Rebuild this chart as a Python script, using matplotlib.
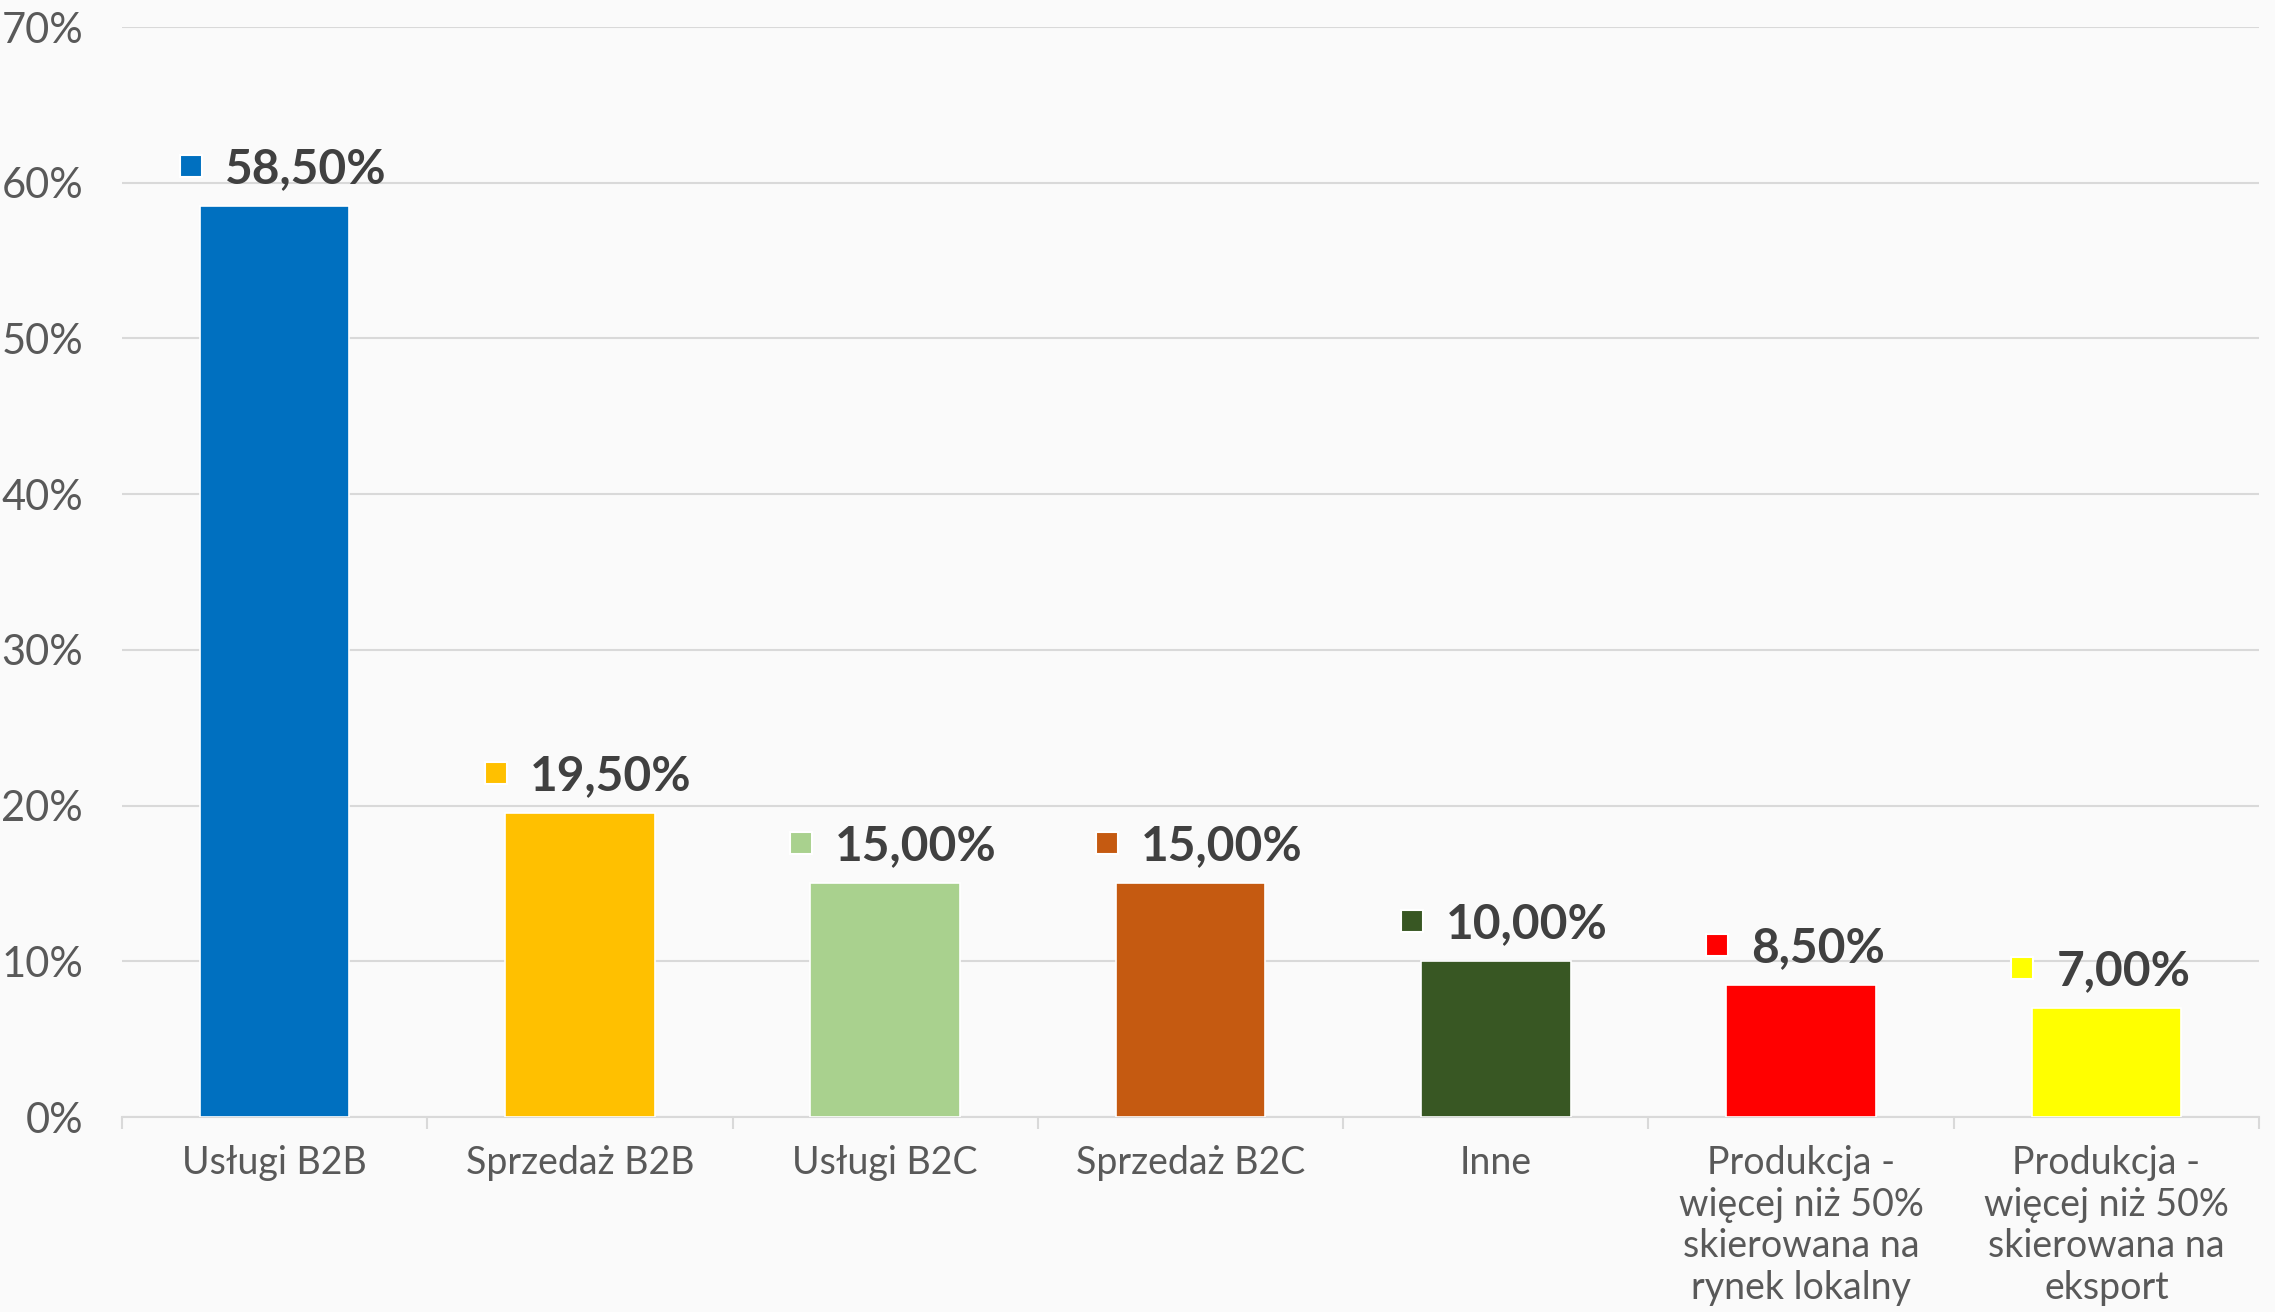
import numpy as np
import matplotlib
matplotlib.use('Agg')
import matplotlib.pyplot as plt
from matplotlib.transforms import offset_copy

categories = ['Usługi B2B', 'Sprzedaż B2B', 'Usługi B2C', 'Sprzedaż B2C', 'Inne',
              'Produkcja -\nwięcej niż 50%\nskierowana na\nrynek lokalny',
              'Produkcja -\nwięcej niż 50%\nskierowana na\neksport']
values = [58.5, 19.5, 15.0, 15.0, 10.0, 8.5, 7.0]
colors = ['#0070C0', '#FFC000', '#A9D18E', '#C55A11', '#385723', '#FF0000', '#FFFF00']
yticks = [0, 10, 20, 30, 40, 50, 60, 70]

bg = '#FAFAFA'
grid_col = '#D9D9D9'
plt.rcParams['font.family'] = ['Lato', 'DejaVu Sans']

fig = plt.figure(figsize=(22.75, 13.12), dpi=100, facecolor=bg)
ax = fig.add_axes([0.0536, 0.1486, 0.9394, 0.8308], facecolor=bg)

x = np.arange(len(categories))
ax.bar(x, values, width=0.49, color=colors, edgecolor='white', linewidth=1.2, zorder=3)

ax.set_xlim(-0.5, len(categories) - 0.5)
ax.set_ylim(0, 70)
ax.set_yticks(yticks)
ax.set_yticklabels([f"{t}%" for t in yticks], fontsize=30, color='#595959')
ax.yaxis.grid(True, color=grid_col, linewidth=1.5, zorder=0)
ax.tick_params(axis='y', length=0, pad=28)

ax.set_xticks(x)
ax.set_xticklabels(categories, fontsize=27, color='#595959', linespacing=1.2)
ax.set_xticks(np.arange(-0.5, len(categories), 1.0), minor=True)
ax.tick_params(axis='x', which='major', length=0, pad=20)
ax.tick_params(axis='x', which='minor', length=8.5, width=1.5, color=grid_col)

for side in ['top', 'right', 'left']:
    ax.spines[side].set_visible(False)
ax.spines['bottom'].set_color(grid_col)
ax.spines['bottom'].set_linewidth(1.5)

# data labels: square marker + bold value
for xi, v, c in zip(x, values, colors):
    txt_tr = offset_copy(ax.transData, fig=fig, x=-50, y=23, units='dots')
    ax.text(xi, v, f"{v:.2f}%".replace('.', ','), transform=txt_tr,
            ha='left', va='baseline', fontsize=34.5, fontweight='bold', color='#404040', zorder=5)
    sq_tr = offset_copy(ax.transData, fig=fig, x=-84, y=40, units='dots')
    ax.plot([xi], [v], marker='s', markersize=16, color=c, markeredgecolor='white',
            markeredgewidth=1.5, transform=sq_tr, clip_on=False, zorder=5)

fig.savefig('out.png', dpi=100, facecolor=bg)
